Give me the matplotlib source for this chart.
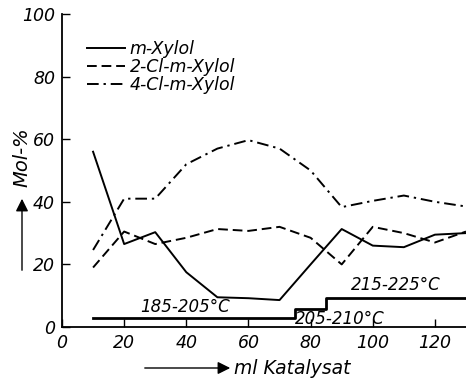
import numpy as np
import matplotlib
matplotlib.use("Agg")
import matplotlib.pyplot as plt

# ml Katalysat
x = [10, 20, 30, 40, 50, 60, 70, 80, 90, 100, 110, 120, 130]
m_xylol = [56, 26.5, 30.3, 17.5, 9.5, 9.2, 8.6, 20, 31.3, 26, 25.5, 29.5, 30]
cl2_xylol = [19, 30.5, 26.5, 28.5, 31.3, 30.7, 32, 28.5, 20, 32, 30, 27, 30.5]
cl4_xylol = [24.6, 41, 41, 52, 57, 59.7, 57, 50, 38.3, 40.3, 42, 40, 38.5]

# temperature step line
temp_x = [10, 75, 75, 85, 85, 135]
temp_y = [3, 3, 5.8, 5.8, 9.4, 9.4]
temp_labels = ["185-205°C", "205-210°C", "215-225°C"]
temp_label_pos = [(39.5, 6.4), (89.5, 2.6), (107.5, 13.4)]

series_names = ["m-Xylol", "2-Cl-m-Xylol", "4-Cl-m-Xylol"]

fig = plt.figure(figsize=(4.66, 3.84), dpi=100)
ax = fig.add_axes([62 / 466, 57 / 384, 404 / 466, 313 / 384])

font = dict(family="DejaVu Sans", style="italic")

ax.plot(x, m_xylol, color="black", lw=1.4, ls="-", label=series_names[0])
ax.plot(x, cl2_xylol, color="black", lw=1.4, ls=(0, (5, 2.5)), label=series_names[1])
ax.plot(x, cl4_xylol, color="black", lw=1.4, ls=(0, (6, 2.5, 1.2, 2.5)), label=series_names[2])
ax.plot(temp_x, temp_y, color="black", lw=2.0)

for label, (tx, ty) in zip(temp_labels, temp_label_pos):
    ax.text(tx, ty, label, ha="center", va="center", fontsize=12, **font)

ax.set_xlim(0, 130)
ax.set_ylim(0, 100)
ax.set_xticks([0, 20, 40, 60, 80, 100, 120])
ax.set_yticks([0, 20, 40, 60, 80, 100])
ax.tick_params(direction="in", length=6, width=1, labelsize=12.5, pad=5)
for lab in ax.get_xticklabels() + ax.get_yticklabels():
    lab.set_family("DejaVu Sans")
    lab.set_style("italic")

ax.spines["top"].set_visible(False)
ax.spines["right"].set_visible(False)
ax.spines["left"].set_linewidth(1.3)
ax.spines["bottom"].set_linewidth(1.3)

leg = ax.legend(loc="upper left", bbox_to_anchor=(0.045, 0.94), frameon=False,
                handlelength=2.2, handletextpad=0.25,
                labelspacing=0.0, borderaxespad=0,
                prop=dict(family="DejaVu Sans", style="italic", size=12.5))

# y label with arrow
fig.text(22 / 466, 1 - 157 / 384, "Mol-%", rotation=90, ha="center", va="center",
         fontsize=14, **font)
fig.add_artist(matplotlib.patches.FancyArrowPatch(
    (22 / 466, 1 - 273 / 384), (22 / 466, 1 - 196 / 384),
    transform=fig.transFigure, arrowstyle="-|>,head_length=5,head_width=2.5",
    color="black", lw=1.0, mutation_scale=1.5))

# x label with arrow
fig.add_artist(matplotlib.patches.FancyArrowPatch(
    (142 / 466, 1 - 368 / 384), (233 / 466, 1 - 368 / 384),
    transform=fig.transFigure, arrowstyle="-|>,head_length=5,head_width=2.5",
    color="black", lw=1.0, mutation_scale=1.5))
fig.text(234 / 466, 1 - 368 / 384, "ml Katalysat", ha="left", va="center",
         fontsize=13.5, **font)

fig.savefig("out.png", dpi=100)
